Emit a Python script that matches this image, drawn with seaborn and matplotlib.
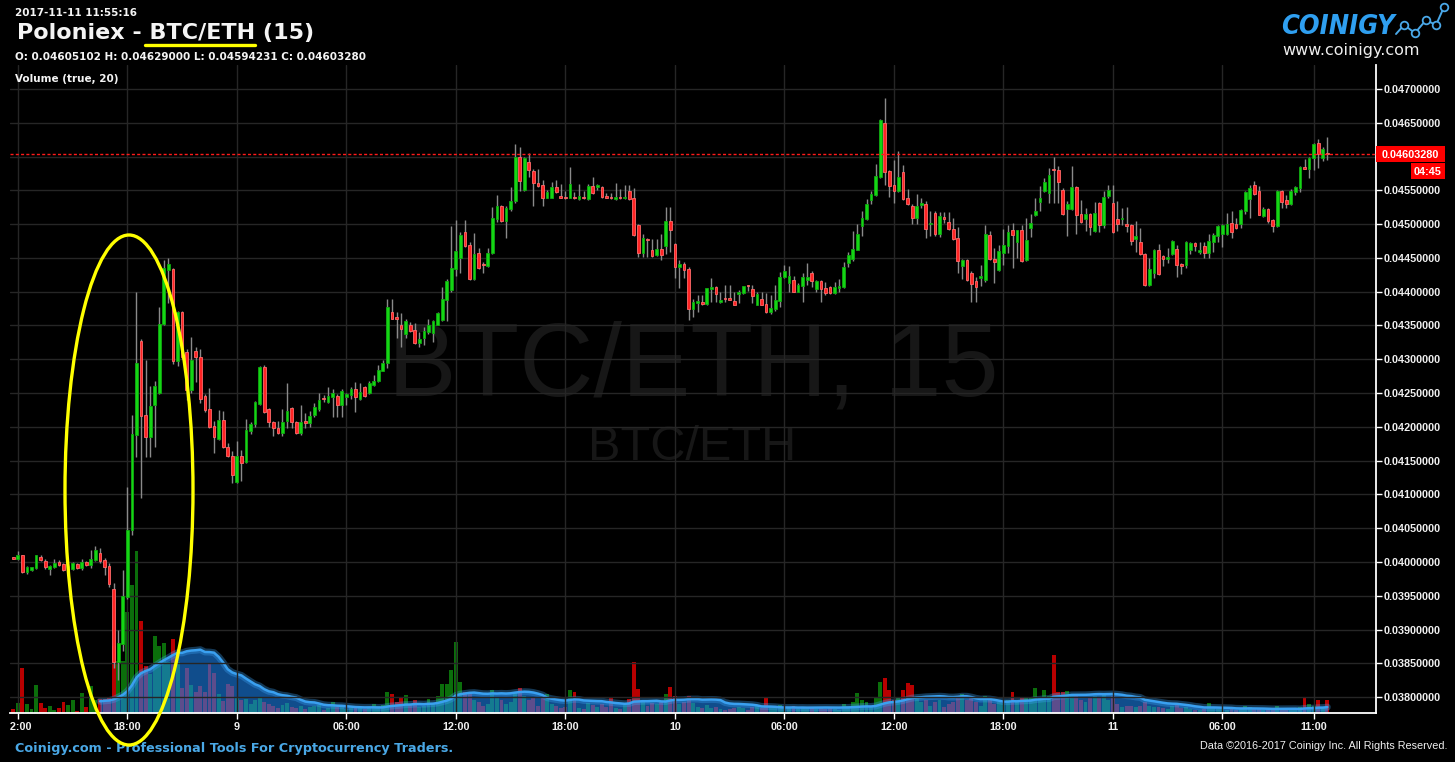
import numpy as np
import pandas as pd
import matplotlib
matplotlib.use("Agg")
import matplotlib.pyplot as plt
import matplotlib.dates as mdates
from matplotlib.patches import Ellipse, Rectangle
from matplotlib.lines import Line2D
from matplotlib.ticker import FuncFormatter
from matplotlib.transforms import Bbox, TransformedBbox
from matplotlib.font_manager import FontProperties
from matplotlib import font_manager
import seaborn as sns

# ---------------------------------------------------------------------------
# Poloniex BTC/ETH, 15-minute candles (prices quoted in units of 0.00001 BTC)
# ---------------------------------------------------------------------------
START = "2017-11-08 11:45"
PERIOD_MIN = 15
PRICE_UNIT = 1e-5

open_q = [
    4006, 4004, 4010, 3985, 3988, 3991, 4007, 4001, 3990, 3992,
    4000, 3997, 3988, 3990, 3997, 3991, 4000, 3995, 4003, 4013,
    4003, 3994, 3960, 3852, 3879, 3948, 4047, 4188, 4327, 4218,
    4185, 4232, 4250, 4352, 4432, 4434, 4298, 4370, 4311, 4255,
    4312, 4303, 4245, 4226, 4201, 4182, 4210, 4170, 4157, 4119,
    4157, 4148, 4194, 4204, 4234, 4289, 4226, 4207, 4198, 4191,
    4209, 4228, 4207, 4191, 4209, 4206, 4218, 4226, 4243, 4237,
    4244, 4246, 4232, 4244, 4247, 4256, 4241, 4259, 4250, 4262,
    4268, 4283, 4294, 4370, 4361, 4351, 4337, 4350, 4344, 4324,
    4331, 4340, 4339, 4351, 4358, 4388, 4403, 4434, 4450, 4488,
    4469, 4419, 4457, 4440, 4438, 4457, 4508, 4527, 4505, 4522,
    4534, 4599, 4550, 4592, 4579, 4561, 4558, 4539, 4539, 4555,
    4542, 4539, 4539, 4539, 4537, 4539, 4537, 4556, 4555, 4555,
    4542, 4539, 4537, 4539, 4538, 4549, 4539, 4499, 4457, 4478,
    4461, 4455, 4463, 4468, 4505, 4471, 4437, 4441, 4434, 4374,
    4384, 4385, 4382, 4404, 4407, 4385, 4390, 4390, 4386, 4397,
    4398, 4409, 4404, 4381, 4389, 4382, 4370, 4374, 4386, 4422,
    4413, 4417, 4400, 4408, 4417, 4428, 4404, 4416, 4406, 4407,
    4398, 4406, 4407, 4442, 4448, 4462, 4497, 4508, 4536, 4543,
    4570, 4650, 4578, 4558, 4549, 4577, 4539, 4527, 4509, 4529,
    4530, 4500, 4516, 4485, 4510, 4503, 4493, 4479, 4438, 4447,
    4428, 4416, 4420, 4417, 4484, 4448, 4432, 4457, 4468, 4491,
    4474, 4491, 4447, 4494, 4513, 4533, 4549, 4546, 4582, 4580,
    4551, 4522, 4522, 4555, 4515, 4508, 4515, 4490, 4531, 4499,
    4541, 4531, 4508, 4507, 4500, 4499, 4478, 4474, 4456, 4410,
    4428, 4462, 4453, 4448, 4456, 4463, 4441, 4440, 4462, 4472,
    4459, 4467, 4457, 4474, 4482, 4485, 4485, 4502, 4500, 4500,
    4519, 4537, 4558, 4549, 4512, 4522, 4506, 4497, 4549, 4536,
    4530, 4548, 4554, 4585, 4582, 4598, 4620, 4598, 4605.102,
]

high_q = [
    4008, 4016, 4011, 3994, 3993, 4011, 4010, 4005, 3996, 4005,
    4003, 3999, 3997, 4000, 3999, 4005, 4001, 4018, 4023, 4020,
    4006, 3999, 3969, 3899, 3988, 4111, 4217, 4400, 4330, 4299,
    4260, 4268, 4377, 4447, 4450, 4435, 4372, 4372, 4315, 4333,
    4318, 4315, 4249, 4257, 4209, 4225, 4223, 4176, 4164, 4179,
    4166, 4212, 4207, 4238, 4290, 4291, 4228, 4209, 4209, 4226,
    4265, 4229, 4209, 4232, 4220, 4223, 4235, 4250, 4247, 4259,
    4256, 4248, 4256, 4250, 4259, 4266, 4265, 4260, 4268, 4277,
    4292, 4299, 4389, 4389, 4370, 4368, 4360, 4355, 4353, 4340,
    4348, 4360, 4358, 4370, 4407, 4419, 4497, 4506, 4488, 4506,
    4474, 4487, 4465, 4444, 4465, 4525, 4543, 4528, 4527, 4555,
    4619, 4614, 4600, 4605, 4581, 4582, 4565, 4550, 4562, 4565,
    4559, 4549, 4585, 4548, 4559, 4549, 4559, 4570, 4559, 4557,
    4546, 4546, 4561, 4552, 4558, 4558, 4553, 4500, 4485, 4479,
    4478, 4478, 4485, 4525, 4525, 4472, 4447, 4444, 4437, 4389,
    4395, 4395, 4406, 4420, 4408, 4400, 4410, 4410, 4400, 4403,
    4409, 4410, 4410, 4400, 4400, 4398, 4395, 4410, 4429, 4440,
    4438, 4423, 4413, 4428, 4442, 4431, 4417, 4417, 4414, 4409,
    4414, 4419, 4444, 4459, 4490, 4500, 4519, 4537, 4549, 4589,
    4655, 4687, 4580, 4595, 4608, 4588, 4552, 4530, 4545, 4539,
    4534, 4519, 4519, 4518, 4518, 4518, 4509, 4496, 4448, 4448,
    4430, 4422, 4440, 4499, 4490, 4465, 4469, 4493, 4499, 4502,
    4492, 4499, 4509, 4515, 4539, 4556, 4568, 4583, 4599, 4586,
    4553, 4534, 4586, 4557, 4536, 4524, 4516, 4533, 4533, 4549,
    4558, 4558, 4534, 4524, 4525, 4500, 4505, 4494, 4457, 4450,
    4463, 4471, 4455, 4465, 4476, 4469, 4442, 4475, 4474, 4473,
    4474, 4474, 4485, 4487, 4498, 4500, 4517, 4519, 4509, 4522,
    4549, 4558, 4564, 4556, 4525, 4524, 4507, 4550, 4550, 4543,
    4552, 4556, 4586, 4596, 4599, 4620, 4626, 4614, 4629.0,
]

low_q = [
    4004, 4003, 3984, 3982, 3987, 3990, 4001, 3989, 3981, 3991,
    3994, 3987, 3986, 3988, 3989, 3988, 3994, 3991, 4001, 3999,
    3980, 3963, 3843, 3825, 3868, 3945, 4040, 4155, 4095, 4155,
    4155, 4170, 4248, 4350, 4383, 4293, 4290, 4300, 4240, 4250,
    4266, 4235, 4222, 4198, 4161, 4180, 4168, 4155, 4117, 4117,
    4120, 4146, 4190, 4200, 4232, 4220, 4200, 4186, 4189, 4186,
    4198, 4198, 4189, 4188, 4198, 4200, 4215, 4224, 4237, 4235,
    4215, 4215, 4215, 4232, 4241, 4222, 4240, 4244, 4248, 4260,
    4266, 4282, 4287, 4359, 4331, 4318, 4331, 4340, 4322, 4318,
    4321, 4338, 4326, 4350, 4357, 4357, 4400, 4423, 4428, 4466,
    4417, 4418, 4434, 4428, 4436, 4456, 4503, 4503, 4480, 4519,
    4532, 4549, 4549, 4570, 4527, 4555, 4527, 4538, 4538, 4546,
    4538, 4537, 4538, 4537, 4536, 4537, 4536, 4545, 4550, 4538,
    4538, 4537, 4536, 4537, 4537, 4536, 4483, 4451, 4451, 4451,
    4452, 4453, 4447, 4456, 4459, 4420, 4405, 4420, 4358, 4363,
    4370, 4380, 4380, 4385, 4385, 4383, 4385, 4387, 4380, 4383,
    4397, 4401, 4383, 4380, 4380, 4369, 4367, 4372, 4377, 4420,
    4400, 4399, 4399, 4385, 4410, 4407, 4400, 4385, 4395, 4397,
    4397, 4400, 4406, 4437, 4446, 4461, 4482, 4506, 4530, 4542,
    4569, 4558, 4540, 4531, 4548, 4536, 4529, 4500, 4500, 4524,
    4480, 4482, 4482, 4481, 4502, 4492, 4477, 4428, 4419, 4416,
    4385, 4385, 4408, 4414, 4447, 4413, 4431, 4440, 4457, 4435,
    4450, 4444, 4446, 4481, 4512, 4519, 4548, 4531, 4531, 4531,
    4514, 4482, 4521, 4485, 4502, 4490, 4484, 4489, 4488, 4494,
    4539, 4487, 4490, 4499, 4488, 4469, 4459, 4455, 4409, 4409,
    4420, 4425, 4438, 4442, 4455, 4422, 4426, 4435, 4456, 4460,
    4456, 4450, 4450, 4459, 4474, 4466, 4484, 4480, 4493, 4494,
    4515, 4509, 4543, 4513, 4511, 4502, 4488, 4496, 4524, 4524,
    4529, 4543, 4548, 4581, 4568, 4580, 4583, 4593, 4594.231,
]

close_q = [
    4005, 4010, 3985, 3992, 3992, 4010, 4003, 3992, 3994, 3998,
    3995, 3988, 3994, 3998, 3991, 4000, 3995, 4004, 4018, 4001,
    3992, 3967, 3852, 3880, 3950, 4047, 4190, 4294, 4216, 4185,
    4231, 4260, 4352, 4435, 4441, 4298, 4370, 4303, 4255, 4299,
    4303, 4241, 4225, 4200, 4185, 4210, 4170, 4157, 4129, 4157,
    4146, 4195, 4204, 4237, 4289, 4222, 4207, 4198, 4191, 4207,
    4224, 4207, 4191, 4207, 4206, 4216, 4229, 4240, 4241, 4246,
    4250, 4232, 4253, 4249, 4256, 4244, 4252, 4246, 4265, 4268,
    4284, 4294, 4377, 4360, 4360, 4345, 4357, 4342, 4324, 4330,
    4342, 4351, 4357, 4369, 4389, 4416, 4435, 4460, 4484, 4468,
    4419, 4456, 4435, 4439, 4457, 4509, 4527, 4505, 4524, 4534,
    4599, 4564, 4598, 4580, 4561, 4556, 4539, 4548, 4555, 4548,
    4539, 4538, 4559, 4538, 4541, 4538, 4556, 4546, 4556, 4540,
    4539, 4538, 4540, 4538, 4539, 4537, 4484, 4457, 4479, 4476,
    4453, 4463, 4454, 4505, 4491, 4437, 4441, 4432, 4374, 4385,
    4385, 4382, 4405, 4407, 4397, 4387, 4389, 4388, 4381, 4400,
    4408, 4408, 4394, 4397, 4381, 4370, 4376, 4388, 4422, 4430,
    4423, 4400, 4410, 4422, 4422, 4416, 4416, 4404, 4398, 4398,
    4407, 4408, 4437, 4454, 4463, 4485, 4509, 4530, 4545, 4571,
    4654, 4577, 4556, 4549, 4570, 4537, 4530, 4509, 4527, 4531,
    4493, 4502, 4485, 4512, 4508, 4493, 4478, 4445, 4447, 4417,
    4411, 4407, 4423, 4485, 4448, 4444, 4460, 4469, 4488, 4484,
    4491, 4445, 4477, 4502, 4519, 4538, 4562, 4573, 4580, 4562,
    4515, 4530, 4555, 4513, 4503, 4515, 4496, 4517, 4499, 4540,
    4550, 4488, 4500, 4509, 4497, 4475, 4482, 4456, 4410, 4434,
    4462, 4426, 4448, 4451, 4475, 4440, 4438, 4474, 4472, 4467,
    4461, 4457, 4475, 4484, 4497, 4499, 4500, 4488, 4494, 4521,
    4548, 4553, 4545, 4514, 4523, 4505, 4497, 4549, 4533, 4530,
    4549, 4555, 4585, 4582, 4598, 4619, 4604, 4611, 4603.28,
]

volume = [
    3, 9, 44, 8, 3, 27, 9, 4, 6, 2,
    4, 10, 7, 12, 1, 19, 5, 26, 12, 13,
    13, 15, 66, 51, 51, 100, 127, 161, 91, 46,
    38, 76, 66, 69, 50, 73, 50, 24, 44, 27,
    20, 26, 20, 49, 39, 18, 11, 28, 26, 14,
    12, 13, 8, 12, 15, 10, 8, 6, 4, 7,
    9, 5, 4, 6, 3, 5, 6, 7, 2, 4,
    10, 5, 6, 3, 4, 5, 4, 3, 5, 8,
    6, 7, 20, 18, 10, 14, 17, 8, 12, 5,
    6, 13, 9, 16, 28, 28, 42, 70, 30, 20,
    20, 12, 10, 6, 8, 22, 14, 12, 8, 10,
    20, 24, 16, 12, 15, 6, 14, 18, 8, 6,
    4, 5, 22, 20, 4, 3, 9, 7, 5, 8,
    5, 15, 4, 3, 8, 13, 50, 23, 12, 6,
    9, 8, 10, 18, 25, 16, 8, 10, 16, 9,
    5, 4, 7, 4, 5, 3, 2, 3, 4, 5,
    4, 2, 5, 6, 4, 15, 5, 6, 7, 5,
    4, 6, 3, 5, 3, 4, 3, 5, 3, 4,
    3, 2, 8, 6, 10, 19, 12, 10, 6, 14,
    30, 34, 22, 12, 15, 22, 29, 27, 14, 10,
    12, 6, 10, 12, 5, 8, 10, 16, 18, 12,
    14, 10, 6, 16, 12, 8, 10, 9, 12, 20,
    10, 14, 14, 15, 24, 14, 22, 16, 57, 20,
    20, 21, 18, 16, 12, 10, 14, 16, 15, 18,
    12, 16, 8, 5, 6, 6, 5, 6, 10, 6,
    5, 5, 4, 3, 6, 7, 4, 5, 3, 2,
    2, 3, 9, 4, 3, 5, 2, 3, 2, 4,
    6, 5, 3, 4, 2, 3, 2, 6, 3, 2,
    3, 4, 5, 14, 8, 6, 12, 4, 12,
]

VOLUME_WINDOW = 20
COUNTDOWN = "04:45"

tick_times = [
    "2017-11-08 12:00", "2017-11-08 18:00", "2017-11-09 00:00",
    "2017-11-09 06:00", "2017-11-09 12:00", "2017-11-09 18:00",
    "2017-11-10 00:00", "2017-11-10 06:00", "2017-11-10 12:00",
    "2017-11-10 18:00", "2017-11-11 00:00", "2017-11-11 06:00",
    "2017-11-11 11:00",
]
tick_labels = ["12:00", "18:00", "9", "06:00", "12:00", "18:00", "10",
               "06:00", "12:00", "18:00", "11", "06:00", "11:00"]
price_ticks = [0.0380, 0.0385, 0.0390, 0.0395, 0.0400, 0.0405, 0.0410,
               0.0415, 0.0420, 0.0425, 0.0430, 0.0435, 0.0440, 0.0445,
               0.0450, 0.0455, 0.0460, 0.0465, 0.0470]

n = len(close_q)
assert all(len(a) == n for a in (open_q, high_q, low_q, volume)), \
    [len(a) for a in (open_q, high_q, low_q, close_q, volume)]

df = pd.DataFrame({
    "time": pd.date_range(START, periods=n, freq=f"{PERIOD_MIN}min"),
    "open": np.array(open_q) * PRICE_UNIT,
    "high": np.array(high_q) * PRICE_UNIT,
    "low": np.array(low_q) * PRICE_UNIT,
    "close": np.array(close_q) * PRICE_UNIT,
    "volume": np.array(volume, dtype=float),
})
df["up"] = df["close"] >= df["open"]
df["vol_ma"] = df["volume"].rolling(VOLUME_WINDOW).mean()
df["t"] = mdates.date2num(df["time"])

# ---------------------------------------------------------------------------
# Styling
# ---------------------------------------------------------------------------
sns.set_theme(style="dark", rc={
    "figure.facecolor": "black",
    "axes.facecolor": "black",
    "savefig.facecolor": "black",
    "grid.color": "#262626",
    "text.color": "white",
})
plt.rcParams["font.family"] = ["Liberation Sans", "DejaVu Sans"]

W, H = 1455, 762


def fx(px):
    return px / W


def fy(py):
    return 1 - py / H


fig = plt.figure(figsize=(W / 100, H / 100), dpi=100)
rect = [fx(10), fy(712.5), fx(1375.7) - fx(10), (712.5 - 65) / H]

# background watermark
fig.text(fx(693), fy(395), "BTC/ETH, 15", fontsize=74, color="#171717",
         ha="center", va="baseline", family="Liberation Sans", zorder=-5)
fig.text(fx(692), fy(460), "BTC/ETH", fontsize=35, color="#171717",
         ha="center", va="baseline", family="Liberation Sans", zorder=-5)

# ---- volume pane (drawn underneath the price pane) ----
axv = fig.add_axes(rect)
up = df["up"].to_numpy()
period = PERIOD_MIN / (24 * 60)
axv.bar(df["t"], df["volume"], width=period * 0.86,
        color=np.where(up, "#0b6e0b", "#b80000"), linewidth=0, zorder=1)
axv.fill_between(df["t"], 0, df["vol_ma"], color="#1c86f2", alpha=0.58,
                 linewidth=0, zorder=2)
sns.lineplot(data=df, x="t", y="vol_ma", ax=axv, color="#3aa0f0",
             linewidth=5, alpha=0.35, zorder=3)
sns.lineplot(data=df, x="t", y="vol_ma", ax=axv, color="#3aa0f0",
             linewidth=1.8, zorder=4)
axv.set_ylim(0, df["volume"].max() * 4.02)
axv.set_axis_off()

# ---- price pane ----
ax = fig.add_axes(rect, sharex=axv)
ax.patch.set_visible(False)
ax.set_xlim(df["t"].iloc[0] - 0.72 * period, df["t"].iloc[0] + 298.6 * period)
ax.set_ylim(0.0377722, 0.0473552)
ax.grid(True, color="#262626", linewidth=1)
ax.set_axisbelow(True)

ax.vlines(df["t"], df["low"], df["high"], color="#8a8a8a", linewidth=1,
          zorder=2)
body_low = np.minimum(df["open"], df["close"])
body_h = np.maximum((df["close"] - df["open"]).abs(), 2.2e-5)
ax.bar(df["t"][up], body_h[up], bottom=body_low[up], width=period * 0.6,
       color="#14d614", edgecolor="#0fa80f", linewidth=0.6, zorder=3)
ax.bar(df["t"][~up], body_h[~up], bottom=body_low[~up], width=period * 0.6,
       color="#ff2424", edgecolor="#ff6a6a", linewidth=0.6, zorder=3)

last = df.iloc[-1]
ax.axhline(last["close"], color="#ff1a1a", linewidth=1,
           linestyle=(0, (2.2, 1.6)), zorder=4)

# axes, ticks and labels
ax.yaxis.tick_right()
ax.set_yticks(price_ticks)
# the scale label under the last-price tag is covered by the tag itself
ax.yaxis.set_major_formatter(FuncFormatter(
    lambda v, _: "" if abs(v - last["close"]) < 0.0002 else f"{v:.8f}"))
ax.set_xticks(mdates.date2num(pd.to_datetime(tick_times)))
ax.set_xticklabels(tick_labels)
ax.set_xlabel("")
ax.set_ylabel("")
for side in ("top", "left"):
    ax.spines[side].set_visible(False)
for side in ("right", "bottom"):
    ax.spines[side].set_visible(True)
    ax.spines[side].set_color("white")
    ax.spines[side].set_linewidth(1.3)
ax.tick_params(axis="both", colors="white", labelcolor="#f0f0f0",
               length=4, width=1, labelsize=7.8)
ax.tick_params(axis="x", pad=3, bottom=True)
ax.tick_params(axis="y", pad=1.7, right=True, left=False)
for lbl in ax.get_xticklabels() + ax.get_yticklabels():
    lbl.set_fontweight("bold")
first = ax.xaxis.get_major_ticks()[0].label1
first.set_clip_box(TransformedBbox(Bbox.from_extents(fx(10), 0, 1, 1),
                                   fig.transFigure))
first.set_clip_on(True)

# last price tag and candle countdown on the price scale
y_last = H - ax.transData.transform((ax.get_xlim()[0], last["close"]))[1]
tag = dict(ha="center", va="center_baseline", fontsize=7.8,
           fontweight="bold", color="white", zorder=6)
fig.add_artist(Rectangle((fx(1376), fy(y_last + 8)), 69 / W, 16 / H,
                         transform=fig.transFigure, fc="#ff0000", ec="none",
                         zorder=5))
fig.text(fx(1410.5), fy(y_last), f"{last['close']:.8f}", **tag)
fig.add_artist(Rectangle((fx(1411), fy(y_last + 25)), 34 / W, 16 / H,
                         transform=fig.transFigure, fc="#ff0000", ec="none",
                         zorder=5))
fig.text(fx(1428), fy(y_last + 17), COUNTDOWN, **tag)

# ---- header ----
hdr = dict(family="DejaVu Sans", fontweight="bold", color="#f4f4f4",
           va="baseline", ha="left")
fig.text(fx(15), fy(15.7), "2017-11-11 11:55:16", fontsize=7.5, **hdr)
fig.text(fx(17), fy(39), "Poloniex - BTC/ETH (15)", fontsize=16, **hdr)
fig.text(fx(15), fy(60),
         f"O: {last['open']:.8f} H: {last['high']:.8f} "
         f"L: {last['low']:.8f} C: {last['close']:.8f}",
         fontsize=7.5, **hdr)
fig.text(fx(15), fy(82), f"Volume (true, {VOLUME_WINDOW})", fontsize=7.5,
         **hdr)
fig.add_artist(Line2D([fx(145), fx(255)], [fy(45), fy(45)], color="#ffff00",
                      linewidth=2.4, solid_capstyle="round"))

# ---- logo ----
narrow = None
for f in font_manager.fontManager.ttflist:
    is_narrow = ("Narrow" in f.name or "Cond" in f.name
                 or "condensed" in str(f.stretch))
    is_bold = (f.weight in ("bold", "heavy", "black")
               or (isinstance(f.weight, int) and f.weight >= 600))
    if is_narrow and is_bold:
        score = 2 if f.style in ("italic", "oblique") else 1
        if narrow is None or score > narrow[0]:
            narrow = (score, f.fname)
if narrow is not None:
    logo_font = FontProperties(fname=narrow[1], style="italic")
else:
    logo_font = FontProperties(family="DejaVu Sans", weight="bold",
                               style="italic")
logo = fig.text(fx(1281), fy(34.5), "COINIGY", fontproperties=logo_font,
                color="#2f9ff0", va="baseline", ha="left")
logo.set_fontsize(30)
renderer = fig.canvas.get_renderer()
logo_w = logo.get_window_extent(renderer).width
logo.set_fontsize(30 * 114 / logo_w)

icon_x = [1396, 1404, 1415, 1426, 1436, 1444]
icon_y = [34, 25, 33, 20, 25, 7]
fig.add_artist(Line2D([fx(v) for v in icon_x], [fy(v) for v in icon_y],
                      color="#4aa8e8", linewidth=1.4, marker="o",
                      markersize=5.5, markerfacecolor="black",
                      markeredgecolor="#4aa8e8", markeredgewidth=1.3,
                      markevery=[1, 2, 3, 4, 5]))
fig.text(fx(1282), fy(55), "www.coinigy.com", family="DejaVu Sans",
         fontsize=11.5, color="#eeeeee", va="baseline", ha="left")

# ---- footer ----
fig.text(fx(15), fy(752),
         "Coinigy.com - Professional Tools For Cryptocurrency Traders.",
         family="DejaVu Sans", fontweight="bold", fontsize=9.2,
         color="#4aa8e6", va="baseline", ha="left")
fig.text(fx(1447), fy(749),
         "Data \u00a92016-2017 Coinigy Inc. All Rights Reserved.",
         family="Liberation Sans", fontsize=7.8, color="#f0f0f0",
         va="baseline", ha="right")

# highlight around the breakout
fig.add_artist(Ellipse((fx(129), fy(490)), width=128 / W, height=510 / H,
                       transform=fig.transFigure, fill=False,
                       edgecolor="#ffff00", linewidth=2.4, zorder=10))

fig.savefig("out.png", dpi=100, facecolor="black")
